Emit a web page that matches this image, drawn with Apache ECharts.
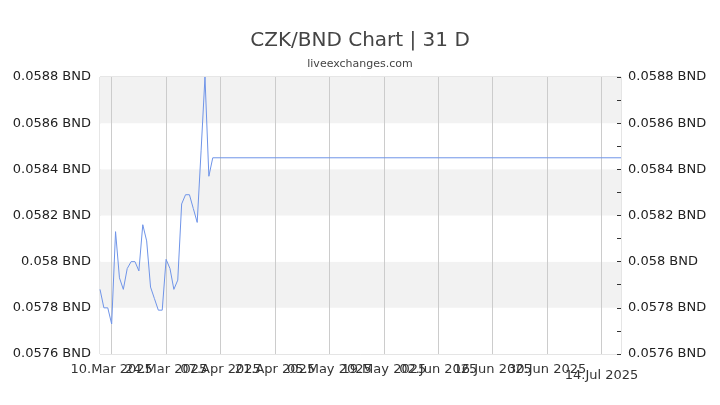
<!DOCTYPE html>
<html>
<head>
<meta charset="utf-8">
<script src="https://cdn.jsdelivr.net/npm/echarts@6/dist/echarts.min.js"></script>
<style>
  html, body { margin: 0; padding: 0; background: #fff; }
  #chart { width: 720px; height: 405px; }
</style>
</head>
<body>
<div id="chart"></div>
<script>
// daily CZK/BND rates
var rateDates = [
    '2025-03-07', '2025-03-08', '2025-03-09', '2025-03-10', '2025-03-11', '2025-03-12',
    '2025-03-13', '2025-03-14', '2025-03-15', '2025-03-16', '2025-03-17', '2025-03-18',
    '2025-03-19', '2025-03-20', '2025-03-21', '2025-03-22', '2025-03-23', '2025-03-24',
    '2025-03-25', '2025-03-26', '2025-03-27', '2025-03-28', '2025-03-29', '2025-03-30',
    '2025-03-31', '2025-04-01', '2025-04-02', '2025-04-03', '2025-04-04', '2025-04-05',
    '2025-07-19'
];
var rateValues = [
    0.05788, 0.05780, 0.05780, 0.05773, 0.05813, 0.05793,
    0.05788, 0.05797, 0.05800, 0.05800, 0.05796, 0.05816,
    0.05809, 0.05789, 0.05784, 0.05779, 0.05779, 0.05801,
    0.05797, 0.05788, 0.05792, 0.05825, 0.05829, 0.05829,
    0.05823, 0.05817, 0.05848, 0.05880, 0.05837, 0.05845,
    0.05845
];
var monthNames = ['Jan', 'Feb', 'Mar', 'Apr', 'May', 'Jun', 'Jul', 'Aug', 'Sep', 'Oct', 'Nov', 'Dec'];

var axisStart = '2025-03-07';   // left edge of plot
var axisEnd = '2025-07-19';     // right edge of plot
var firstTick = '2025-03-10';   // x ticks every 14 days from here
var lastLabel = '2025-07-14';   // this one sits a bit lower
var DAY = 86400000;

function parseDay(s) {
    return Date.parse(s + 'T00:00:00Z');
}
function dayLabel(s) {
    var d = new Date(parseDay(s));
    var dd = d.getUTCDate();
    return (dd < 10 ? '0' + dd : dd) + '.' + monthNames[d.getUTCMonth()] + ' ' + d.getUTCFullYear();
}

// one category per day along the axis
var days = [];
for (var t = parseDay(axisStart); t <= parseDay(axisEnd); t += DAY) {
    days.push(new Date(t).toISOString().slice(0, 10));
}
var tickShift = days.indexOf(firstTick);
function isTick(idx) {
    return idx >= tickShift && (idx - tickShift) % 14 === 0;
}
// labels overlap each other, echarts would drop some -> split them on two axes
function isEvenTick(idx) {
    return isTick(idx) && ((idx - tickShift) / 14) % 2 === 0;
}
function isOddTick(idx) {
    return isTick(idx) && ((idx - tickShift) / 14) % 2 === 1;
}

var seriesData = [];
for (var i = 0; i < rateDates.length; i++) {
    seriesData.push([rateDates[i], rateValues[i]]);
}

function labelStyle(intervalFn) {
    return {
        interval: intervalFn,
        margin: 9,
        fontFamily: 'DejaVu Sans',
        fontSize: 13,
        color: '#333',
        formatter: function (v) {
            if (v === lastLabel) return '{low|' + dayLabel(v) + '}';
            return dayLabel(v);
        },
        rich: {
            low: {
                fontFamily: 'DejaVu Sans',
                fontSize: 13,
                color: '#333',
                padding: [6, 0, 0, 0]
            }
        }
    };
}

var mychart = echarts.init(document.getElementById('chart'));
var option = {
    animation: false,
    title: {
        text: 'CZK/BND Chart | 31 D',
        subtext: 'liveexchanges.com',
        left: 'center',
        top: 26,
        itemGap: 8,
        textStyle: {
            fontFamily: 'DejaVu Sans',
            fontSize: 20,
            fontWeight: 'normal',
            color: '#444'
        },
        subtextStyle: {
            fontFamily: 'DejaVu Sans',
            fontSize: 11,
            color: '#444'
        }
    },
    grid: {
        left: 100,
        right: 99,
        top: 77,
        bottom: 51,
        show: true,
        borderColor: '#ccc',
        borderWidth: 1
    },
    xAxis: [{
        type: 'category',
        data: days,
        boundaryGap: false,
        position: 'bottom',
        axisLine: { show: false },
        axisTick: { show: false },
        splitLine: { show: true, interval: isTick, lineStyle: { color: '#ccc', width: 1 } },
        axisLabel: labelStyle(isEvenTick)
    }, {
        type: 'category',
        data: days,
        boundaryGap: false,
        position: 'bottom',
        offset: 0,
        axisLine: { show: false },
        axisTick: { show: false },
        splitLine: { show: false },
        axisLabel: labelStyle(isOddTick)
    }],
    yAxis: [{
        type: 'value',
        min: 0.0576,
        max: 0.0588,
        interval: 0.0002,
        axisLine: { show: false },
        axisTick: { show: false },
        splitLine: { show: false },
        splitArea: { show: true, areaStyle: { color: ['#fff', '#f2f2f2'] } },
        axisLabel: {
            margin: 9,
            fontFamily: 'DejaVu Sans',
            fontSize: 13,
            color: '#222',
            formatter: function (v) {
                return +v.toFixed(4) + ' BND';
            }
        }
    }, {
        type: 'value',
        position: 'right',
        min: 0.0576,
        max: 0.0588,
        interval: 0.0001,
        axisLine: { show: false },
        axisTick: { show: true, inside: true, length: 4, lineStyle: { color: '#333' } },
        splitLine: { show: false },
        axisLabel: {
            margin: 7,
            fontFamily: 'DejaVu Sans',
            fontSize: 13,
            color: '#222',
            formatter: function (v) {
                var n = Math.round(v * 10000);
                if (n % 2 !== 0) return '';
                return +v.toFixed(4) + ' BND';
            }
        }
    }],
    series: [{
        type: 'line',
        xAxisIndex: 0,
        yAxisIndex: 0,
        data: seriesData,
        showSymbol: false,
        symbol: 'none',
        lineStyle: { color: '#6f94e8', width: 1 },
        silent: true
    }]
};
mychart.setOption(option);
</script>
</body>
</html>
